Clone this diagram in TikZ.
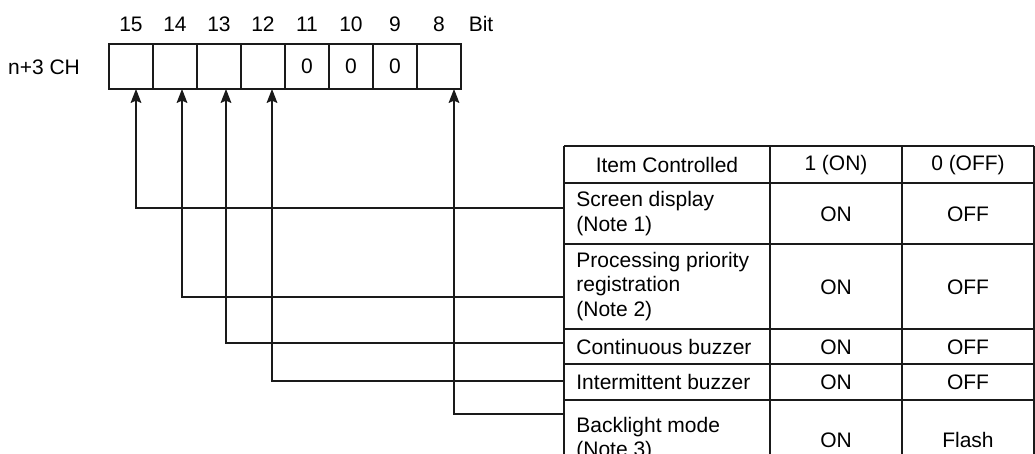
\documentclass[tikz,border=0pt]{standalone}
\usepackage{fontspec}
\setmainfont{Liberation Sans}
\usepackage{xcolor}
\usepackage{tikz}
\usetikzlibrary{arrows.meta}
\definecolor{rulegray}{HTML}{1A1A1A}
\tikzset{
  bitcell/.style={draw=rulegray,line width=0.8pt,minimum width=22pt,
    minimum height=22.5pt,inner sep=0pt},
  label/.style={inner sep=0pt},
  item/.style={inner sep=0pt,anchor=west,align=left},
  grid/.style={draw=rulegray,line width=0.7pt},
  link/.style={draw=rulegray,line width=0.6pt,
    -{Stealth[length=7pt,width=5.4pt,inset=1.2pt]}}
}

\begin{document}
\begin{tikzpicture}[x=0.5pt,y=-0.5pt,font=\fontsize{10.5}{12.3}\selectfont]
  \useasboundingbox (0,0) rectangle (1035,454);
  % register
  \node[label] (ch) at (44,67) {n+3 CH};
  \foreach \b/\v [count=\i from 0] in {15/,14/,13/,12/,11/0,10/0,9/0,8/} {
    \node[bitcell] (c\b) at ({131+44*\i},66.5) {\v};
    \node[label] (n\b) at ({131+44*\i},24) {\b};
  }
  \node[label] (bit) at (481,24) {Bit};
  % table
  \draw[grid] (564,146)--(1034,146);
  \foreach \y in {183,244,329,364,400}
    \draw[grid] (564,\y)--(1034,\y);
  \foreach \x in {564,770,902,1034}
    \draw[grid] (\x,146)--(\x,455);
  \node[label] (hd1) at (667,165) {Item Controlled};
  \node[label] (hd2) at (836,165) {1 (ON)};
  \node[label] (hd3) at (968,165) {0 (OFF)};
  \node[item] (it15) at (576,213.5) {Screen display\\(Note 1)};
  \node[item] (it14) at (576,286.5) {Processing priority\\registration\\(Note 2)};
  \node[item] (it13) at (576,346.5) {Continuous buzzer};
  \node[item] (it12) at (576,382) {Intermittent buzzer};
  \node[item] (it8) at (576,439) {Backlight mode\\(Note 3)};
  \foreach \r/\y/\off in {15/214.5/OFF,14/287.5/OFF,13/347/OFF,12/382/OFF,8/440/Flash} {
    \node[label] (on\r) at (836,\y) {ON};
    \node[label] (off\r) at (968,\y) {\off};
  }
  % connectors
  \coordinate (s15) at (564,208);
  \coordinate (s14) at (564,297);
  \coordinate (s13) at (564,343);
  \coordinate (s12) at (564,381);
  \coordinate (s8) at (564,414);
  \coordinate (t15) at (136,89);
  \coordinate (t14) at (182,89);
  \coordinate (t13) at (226,89);
  \coordinate (t12) at (272,89);
  \coordinate (t8) at (454,89);
  \foreach \b in {15,14,13,12,8}
    \draw[link] (s\b) -| (t\b);
\end{tikzpicture}
\end{document}
